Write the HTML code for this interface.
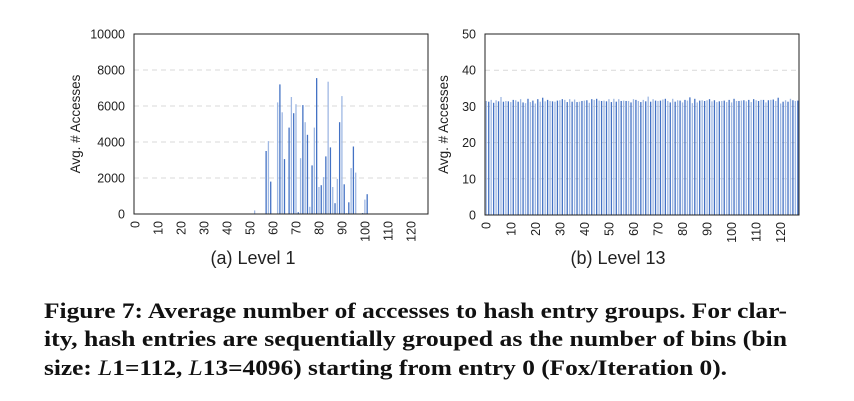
<!DOCTYPE html>
<html><head><meta charset="utf-8"><style>
body{margin:0;background:#fff;width:854px;height:401px;overflow:hidden}
svg{display:block}
.tk{font-family:"Liberation Sans",sans-serif;font-size:12.5px;fill:#222}
.ti{font-family:"Liberation Sans",sans-serif;font-size:18px;fill:#222}
.cap{font-family:"Liberation Serif",serif;font-weight:bold;font-size:22px;fill:#111}
</style></head><body>
<svg id="fig" width="854" height="401">
<text class="cap" x="44" y="318" textLength="743" lengthAdjust="spacingAndGlyphs">Figure 7: Average number of accesses to hash entry groups. For clar-</text>
<text class="cap" x="44" y="346" textLength="743" lengthAdjust="spacingAndGlyphs">ity, hash entries are sequentially grouped as the number of bins (bin</text>
<text class="cap" x="44" y="375" textLength="683" lengthAdjust="spacingAndGlyphs">size: <tspan font-style="italic" font-weight="normal">L</tspan>1=112, <tspan font-style="italic" font-weight="normal">L</tspan>13=4096) starting from entry 0 (Fox/Iteration 0).</text>
</svg>
<script>
const level1Bins=[52,57,58,59,62,63,64,65,67,68,69,70,71,72,73,74,75,76,77,78,79,80,81,82,83,84,85,86,87,88,89,90,91,92,93,94,95,96,99,100,101];
const level1Values=[200,3500,4050,1800,6200,7200,5650,3050,4800,6500,5600,6100,100,3100,6050,5100,4400,400,2700,4800,7550,1500,1600,2050,3200,7350,3700,1500,600,1950,5100,6550,1650,50,650,2550,3750,2300,50,800,1100];
const level13Values=[31.5,31.3,31.8,31.0,31.7,31.4,32.6,31.3,31.5,31.4,31.2,31.8,31.7,31.3,32.0,31.1,30.9,32.1,31.2,31.6,30.8,32.0,31.3,32.4,31.4,31.8,31.5,31.4,31.3,31.6,31.7,32.0,31.8,31.2,32.0,31.3,31.9,31.2,31.3,31.5,31.6,31.7,31.0,32.0,31.8,32.1,31.6,31.5,31.6,31.4,32.0,31.2,32.1,31.3,32.0,31.5,31.6,31.5,31.5,31.1,32.0,31.8,31.5,31.2,31.8,31.4,32.7,31.3,32.0,31.6,31.5,31.6,31.9,32.1,31.5,31.1,32.1,31.3,31.7,31.6,31.1,31.8,31.6,32.5,30.9,32.1,31.1,31.6,31.7,31.5,31.7,32.0,31.4,31.7,31.2,31.4,31.5,31.6,31.2,31.8,31.1,32.1,31.5,31.5,31.6,31.7,31.4,31.8,31.2,32.0,31.7,31.5,31.8,31.8,31.1,31.7,31.8,31.9,31.5,32.4,30.8,31.3,31.7,31.3,32.1,31.7,31.5,31.6];
const level1Ticks=[0,2000,4000,6000,8000,10000];
const level13Ticks=[0,10,20,30,40,50];
const xTickLabels=[0,10,20,30,40,50,60,70,80,90,100,110,120];
const NS="http://www.w3.org/2000/svg";
const svg=document.getElementById('fig');
function mk(tag,attrs,parent){const e=document.createElementNS(NS,tag);for(const k in attrs)e.setAttribute(k,attrs[k]);(parent||svg).appendChild(e);return e;}
function chart(cfg){
  const g=mk('g',{});
  
  
  const {x0,x1,y0,y1,ymax}=cfg;
  const bw=(x1-x0)/128;
  const xs=i=>x0+(i+0.5)*bw;
  const ys=v=>y1-(v/ymax)*(y1-y0);
  cfg.ticks.forEach(t=>{
    if(t>0&&t<ymax){const l=mk('line',{x1:x0,x2:x1,y1:ys(t),y2:ys(t),stroke:'#d9d9d9','stroke-dasharray':'5,4'},g);
    
    }
    const tx=mk('text',{x:x0-9,y:ys(t)+4.5,'text-anchor':'end',class:'tk'},g);tx.textContent=t;
    
    
  });
  cfg.bins.forEach((b,k)=>{
    const v=cfg.values[k];
    const r=mk('rect',{x:xs(b)-0.6,y:ys(v),width:1.3,height:y1-ys(v),fill:b%2?'#4472c4':'#9fb8e3'},g);
    
    
  });
  const f=mk('rect',{x:x0,y:y0,width:x1-x0,height:y1-y0,fill:'none',stroke:'#222','stroke-width':1},g);
  
  
  xTickLabels.forEach(t=>{
    const tx=mk('text',{x:0,y:0,class:'tk','text-anchor':'end',transform:`translate(${xs(t)+4.5},${y1+7}) rotate(-90)`},g);tx.textContent=t;
    
    
  });
  const yt=mk('text',{class:'tk','text-anchor':'middle',transform:`translate(${cfg.ytx},${(y0+y1)/2}) rotate(-90)`},g);
  yt.style.fontSize='13.5px';yt.textContent='Avg. # Accesses';
  
  
  const ti=mk('text',{x:cfg.tix,y:264,class:'ti','text-anchor':'middle'},g);ti.textContent=cfg.title;
  
  
}
chart({name:'level-1-chart',x0:134,x1:428,y0:34,y1:214,ymax:10000,ticks:level1Ticks,bins:level1Bins,values:level1Values,ytx:80,tix:253,title:'(a) Level 1'});
chart({name:'level-13-chart',x0:485,x1:799,y0:34,y1:215,ymax:50,ticks:level13Ticks,bins:level13Values.map((v,i)=>i),values:level13Values,ytx:448,tix:618,title:'(b) Level 13'});
</script>
</body></html>
